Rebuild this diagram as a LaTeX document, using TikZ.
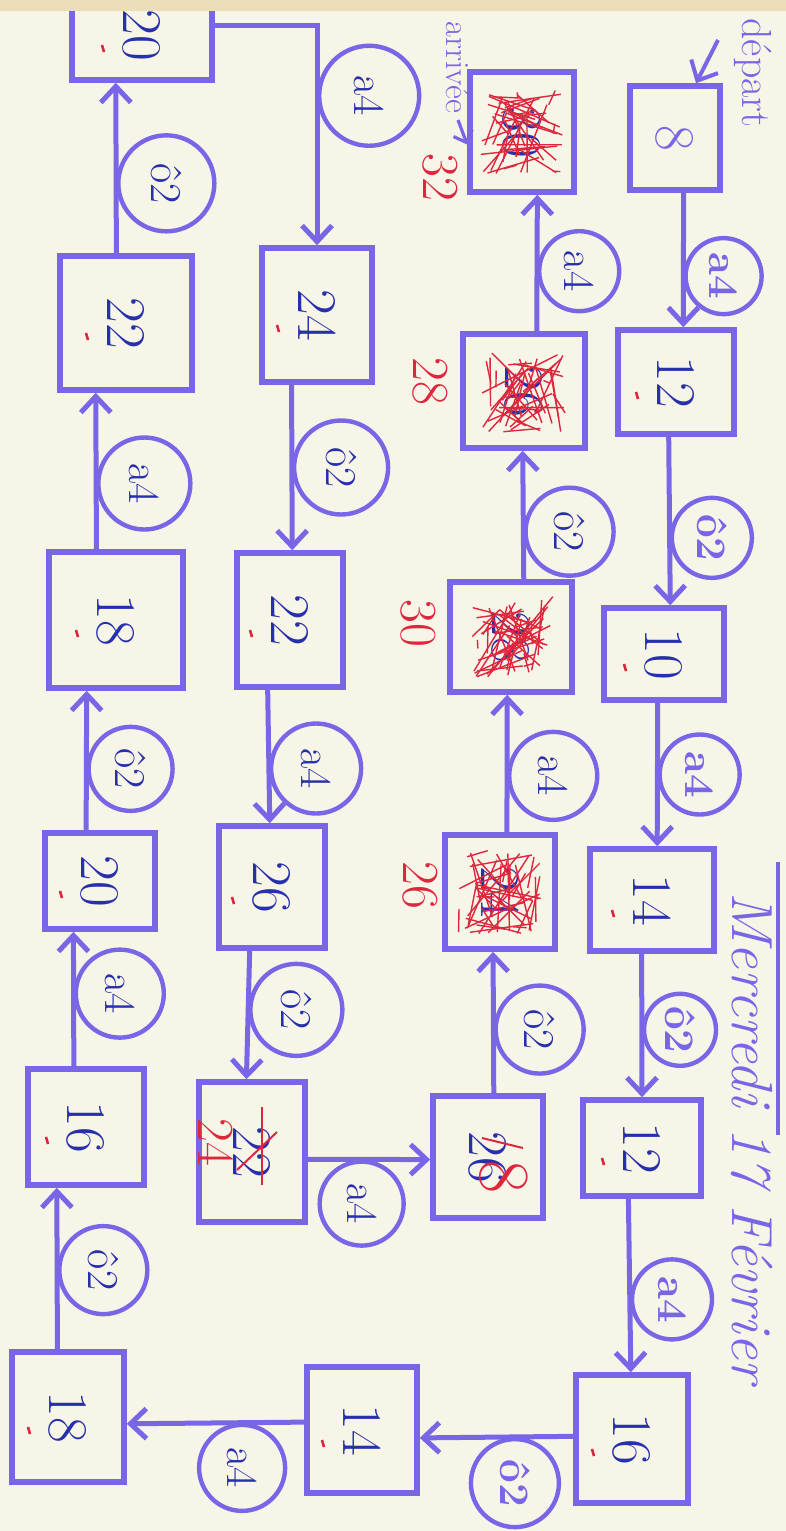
\documentclass[tikz,border=0pt]{standalone}
\usepackage{fontspec}
\usetikzlibrary{arrows.meta,calc}

\definecolor{ink}{RGB}{120,102,230}
\definecolor{pen}{RGB}{38,48,170}
\definecolor{redpen}{RGB}{222,38,60}
\definecolor{paper}{RGB}{247,244,232}
\definecolor{edge}{RGB}{236,222,186}

% handwriting runs down the page
\newcommand{\rt}[1]{\rotatebox{-90}{#1}}

\begin{document}
\begin{tikzpicture}[x=0.5pt, y=-0.5pt,
    box/.style={draw=ink, line width=2.8pt, inner sep=0pt, text=pen, font=\fontsize{28}{30}\selectfont},
    op/.style={circle, draw=ink, line width=2.2pt, inner sep=0pt, minimum size=42pt, anchor=west, text=pen, font=\fontsize{22}{24}\selectfont},
    opk/.style={op, text=ink, font=\fontsize{21}{23}\selectfont\bfseries},
    link/.style={draw=ink, line width=2.5pt, -{Straight Barb[length=8pt, width=15pt]}},
    fix/.style={text=redpen, font=\fontsize{26}{28}\selectfont},
    note/.style={text=ink, font=\fontsize{21}{23}\selectfont},
    tick/.style={redpen, line width=1.3pt},
    scribble/.style={redpen, line width=0.7pt}]

    % Feuille
    \useasboundingbox (0,0) rectangle (786,1531);
    \clip (0,0) rectangle (786,1531);
    \fill[paper] (0,0) rectangle (786,1531);

    % Titre
    \node[note, anchor=north, font=\fontsize{29}{31}\selectfont\itshape] (title) at (752,885) {\rt{Mercredi 17 Février}};
    \draw[ink, line width=2pt] (778,862) -- (778,1135);

    % Colonne 1 (depart)
    \node[box, minimum width=45pt, minimum height=52pt, text=ink] (b8) at (675,138) {\rt{8}};
    \node[box, minimum width=58pt, minimum height=52pt] (b12a) at (676,382) {\rt{12}};
    \node[box, minimum width=60pt, minimum height=46pt] (b10) at (664,654) {\rt{10}};
    \node[box, minimum width=62pt, minimum height=51pt] (b14a) at (652,900) {\rt{14}};
    \node[box, minimum width=59pt, minimum height=48pt] (b12b) at (642,1148) {\rt{12}};
    \node[box, minimum width=56pt, minimum height=64pt] (b16a) at (632,1439) {\rt{16}};

    % Ligne du bas
    \node[box, minimum width=55pt, minimum height=63pt] (b14b) at (362,1430) {\rt{14}};
    \node[box, minimum width=56pt, minimum height=65pt] (b18c) at (68,1417) {\rt{18}};

    % Colonne 4 (on remonte)
    \node[box, minimum width=58pt, minimum height=58pt] (b16b) at (86,1127) {\rt{16}};
    \node[box, minimum width=55pt, minimum height=48pt] (b20b) at (100,881) {\rt{20}};
    \node[box, minimum width=67pt, minimum height=68pt] (b18b) at (116,620) {\rt{18}};
    \node[box, minimum width=66pt, minimum height=67pt] (b22a) at (126,323) {\rt{22}};
    \node[box, minimum width=70pt, minimum height=45pt] (b20a) at (142,35) {\rt{20}};

    % Colonne 3 (on redescend)
    \node[box, minimum width=55pt, minimum height=67pt] (b24a) at (317,315) {\rt{24}};
    \node[box, minimum width=53pt, minimum height=67pt] (b22b) at (290,620) {\rt{22}};
    \node[box, minimum width=53pt, minimum height=61pt] (b26b) at (272,887) {\rt{26}};
    \node[box, minimum width=53pt, minimum height=70pt] (b24b) at (252,1152) {\rt{22}};

    % Colonne 2 (vers l'arrivee)
    \node[box, minimum width=55pt, minimum height=61pt] (b28c) at (488,1157) {\rt{26}};
    \node[box, minimum width=55pt, minimum height=57pt] (b26c) at (500,892) {\rt{24}};
    \node[box, minimum width=61pt, minimum height=55pt] (b30) at (511,637) {\rt{28}};
    \node[box, minimum width=61pt, minimum height=57pt] (b28b) at (524,391) {\rt{26}};
    \node[box, minimum width=52pt, minimum height=60pt] (b32) at (522,132) {\rt{30}};

    % Fleches colonne 1
    \draw[link] ($(b8.south west)!.59!(b8.south east)$) -- node[opk, pos=.62, minimum size=38pt] (o1) {\rt{a4}} ($(b12a.north west)!.56!(b12a.north east)$);
    \draw[link] ($(b12a.south west)!.44!(b12a.south east)$) -- node[opk, pos=.6, minimum size=40pt] (o2) {\rt{ô2}} ($(b10.north west)!.55!(b10.north east)$);
    \draw[link] ($(b10.south west)!.45!(b10.south east)$) -- node[opk, pos=.5, minimum size=40pt] (o3) {\rt{a4}} ($(b14a.north west)!.54!(b14a.north east)$);
    \draw[link] ($(b14a.south west)!.42!(b14a.south east)$) -- node[opk, pos=.53, minimum size=36pt] (o4) {\rt{ô2}} ($(b12b.north west)!.5!(b12b.north east)$);
    \draw[link] ($(b12b.south west)!.39!(b12b.south east)$) -- node[opk, pos=.58, minimum size=40pt] (o5) {\rt{a4}} ($(b16a.north west)!.49!(b16a.north east)$);

    % Fleches du bas
    \draw[link] ($(b16a.north west)!.48!(b16a.south west)$) -- node[opk, pos=.38, anchor=north, minimum size=44pt] (o6) {\rt{ô2}} ($(b14b.north east)!.56!(b14b.south east)$);
    \draw[link] ($(b14b.north west)!.44!(b14b.south west)$) -- node[op, pos=.35, anchor=north, minimum size=43pt] (o7) {\rt{a4}} ($(b18c.north east)!.55!(b18c.south east)$);

    % Fleches colonne 4
    \draw[link] ($(b18c.north west)!.41!(b18c.north east)$) -- node[op, pos=.49, minimum size=44pt] (o8) {\rt{ô2}} ($(b16b.south west)!.26!(b16b.south east)$);
    \draw[link] ($(b16b.north west)!.4!(b16b.north east)$) -- node[op, pos=.54, minimum size=44pt] (o9) {\rt{a4}} ($(b20b.south west)!.27!(b20b.south east)$);
    \draw[link] ($(b20b.north west)!.38!(b20b.north east)$) -- node[op, pos=.44, minimum size=42pt] (o10) {\rt{ô2}} ($(b18b.south west)!.29!(b18b.south east)$);
    \draw[link] ($(b18b.north west)!.36!(b18b.north east)$) -- node[op, pos=.42, minimum size=46pt] (o11) {\rt{a4}} ($(b22a.south west)!.28!(b22a.south east)$);
    \draw[link] ($(b22a.north west)!.43!(b22a.north east)$) -- node[op, pos=.41, minimum size=48pt] (o12) {\rt{ô2}} ($(b20a.south west)!.32!(b20a.south east)$);

    % Passage en haut
    \draw[link] ($(b20a.north east)!.4!(b20a.south east)$) -| node[op, pos=.66, minimum size=50pt] (o13) {\rt{a4}} ($(b24a.north west)!.5!(b24a.north east)$);

    % Fleches colonne 3
    \draw[link] ($(b24a.south west)!.28!(b24a.south east)$) -- node[op, pos=.5, minimum size=47pt] (o14) {\rt{ô2}} ($(b22b.north west)!.52!(b22b.north east)$);
    \draw[link] ($(b22b.south west)!.3!(b22b.south east)$) -- node[op, pos=.59, minimum size=45pt] (o15) {\rt{a4}} ($(b26b.north west)!.48!(b26b.north east)$);
    \draw[link] ($(b26b.south west)!.3!(b26b.south east)$) -- node[op, pos=.46, minimum size=46pt] (o16) {\rt{ô2}} ($(b24b.north west)!.45!(b24b.north east)$);

    % Passage au milieu
    \draw[link] ($(b24b.north east)!.55!(b24b.south east)$) -- node[op, pos=.44, anchor=north, minimum size=42pt] (o17) {\rt{a4}} ($(b28c.north west)!.52!(b28c.south west)$);

    % Fleches colonne 2
    \draw[link] ($(b28c.north west)!.55!(b28c.north east)$) -- node[op, pos=.45, minimum size=44pt] (o18) {\rt{ô2}} ($(b26c.south west)!.44!(b26c.south east)$);
    \draw[link] ($(b26c.north west)!.56!(b26c.north east)$) -- node[op, pos=.41, minimum size=44pt] (o19) {\rt{a4}} ($(b30.south west)!.47!(b30.south east)$);
    \draw[link] ($(b30.north west)!.6!(b30.north east)$) -- node[op, pos=.37, minimum size=44pt] (o20) {\rt{ô2}} ($(b28b.south west)!.49!(b28b.south east)$);
    \draw[link] ($(b28b.north west)!.6!(b28b.north east)$) -- node[op, pos=.44, minimum size=40pt] (o21) {\rt{a4}} ($(b32.south west)!.64!(b32.south east)$);

    % Depart et arrivee
    \node[note] (ldep) at (753,73) {\rt{départ}};
    \coordinate (dstart) at (718,40);
    \draw[link, line width=2pt] (dstart) -- ($(b8.north west)!.72!(b8.north east)$);
    \node[note, anchor=south, font=\fontsize{17}{19}\selectfont] (larr) at (458,120) {\rt{arrivée}};
    \draw[link, line width=1.6pt, -{Straight Barb[length=5pt, width=10pt]}] (larr.south) -- ($(b32.north west)!.6!(b32.south west)$);

    % Corrections en rouge
    \pgfmathsetseed{17}
    \foreach \b in {b26c,b30,b28b,b32}
      \foreach \k in {1,...,40}
        \draw[scribble] ($(\b)+(rand*42,rand*42)$) -- ($(\b)+(rand*42,rand*42)$);
    \node[fix] (r26) at (420,885) {\rt{26}};
    \node[fix] (r30) at (418,623) {\rt{30}};
    \node[fix] (r28) at (430,381) {\rt{28}};
    \node[fix] (r32) at (440,177) {\rt{32}};
    \node[fix] (r24) at ($(b24b)+(-36,-10)$) {\rt{24}};
    \draw[tick, line width=1pt] ($(b24b)+(10,-45)$) -- ($(b24b)+(10,33)$);
    \draw[tick, line width=1pt] ($(b24b)+(-15,18)$) -- ($(b24b)+(25,-20)$);
    \node[fix, font=\fontsize{36}{38}\selectfont] (r8) at ($(b28c)+(16,20)$) {\rt{8}};
    \draw[tick, line width=1pt] ($(b28c)+(-6,-19)$) -- ($(b28c)+(35,-9)$);

    % Petits traits rouges du maitre
    \foreach \b in {b12a,b10,b14a,b12b,b16a,b14b,b18c,b16b,b20b,b18b,b22a,b20a,b24a,b22b,b26b}
      \draw[tick] ($(\b)+(-40,10)$) -- ++(2,7);

    % Bord de la feuille
    \fill[edge] (0,0) rectangle (786,11);
\end{tikzpicture}
\end{document}
